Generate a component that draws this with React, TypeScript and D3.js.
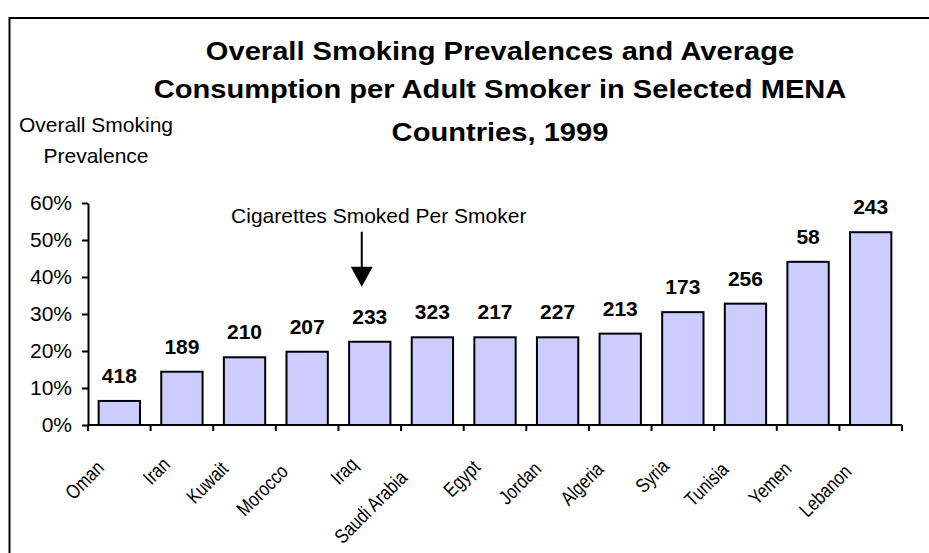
import React, { useRef, useEffect } from "react";
import * as d3 from "d3";

const countries = ["Oman", "Iran", "Kuwait", "Morocco", "Iraq", "Saudi Arabia", "Egypt", "Jordan", "Algeria", "Syria", "Tunisia", "Yemen", "Lebanon"];
// overall smoking prevalence, %
const prevalence = [6.5, 14.4, 18.3, 19.8, 22.5, 23.7, 23.7, 23.7, 24.7, 30.5, 32.8, 44.1, 52.1];
// cigarettes smoked per smoker
const cigarettes = [418, 189, 210, 207, 233, 323, 217, 227, 213, 173, 256, 58, 243];
const yTicks = [0, 10, 20, 30, 40, 50, 60];
const titleLines = [
  "Overall Smoking Prevalences and Average",
  "Consumption per Adult Smoker in Selected MENA",
  "Countries, 1999",
];
const yTitleLines = ["Overall Smoking", "Prevalence"];
const arrowNote = "Cigarettes Smoked Per Smoker";
const arrowCountry = "Iraq";

const FONT = "'Liberation Sans', Arial, Helvetica, sans-serif";

const App: React.FC = () => {
  const svgRef = useRef<SVGSVGElement>(null);

  useEffect(() => {
    const W = 929, H = 553;
    const margin = { top: 203, left: 88 };
    const plotW = 814;
    const plotH = 222;

    const svg = d3.select(svgRef.current);
    svg.selectAll("*").remove();

    svg.append("rect").attr("width", W).attr("height", H).attr("fill", "#fff");

    // outer frame (runs off the right / bottom edges)
    svg.append("rect")
      .attr("x", 9.5).attr("y", 18)
      .attr("width", W + 20).attr("height", H + 20)
      .attr("fill", "none").attr("stroke", "#000").attr("stroke-width", 2);

    // title, slightly wide like the original
    const title = svg.append("g").attr("transform", "translate(500,0) scale(1.12,1)");
    const titleY = [60.5, 98.5, 141];
    titleLines.forEach((t, i) => {
      title.append("text")
        .attr("x", 0).attr("y", titleY[i])
        .attr("text-anchor", "middle")
        .style("font-family", FONT).style("font-size", "26px").style("font-weight", "bold")
        .text(t);
    });

    const yTitleY = [132, 163];
    yTitleLines.forEach((t, i) => {
      svg.append("text")
        .attr("x", 96).attr("y", yTitleY[i])
        .attr("text-anchor", "middle")
        .style("font-family", FONT).style("font-size", "21px")
        .text(t);
    });

    const focus = svg.append("g").attr("transform", `translate(${margin.left},${margin.top})`);

    const x = d3.scaleBand<string>().domain(countries).range([0, plotW]).paddingInner(0.34).paddingOuter(0.17);
    const y = d3.scaleLinear().domain([0, 60]).range([plotH, 0]);

    // bars
    focus.selectAll("rect.bar")
      .data(countries)
      .enter()
      .append("rect")
      .attr("class", "bar")
      .attr("x", d => x(d)!)
      .attr("width", x.bandwidth())
      .attr("y", (_, i) => y(prevalence[i]))
      .attr("height", (_, i) => y(0) - y(prevalence[i]))
      .attr("fill", "#ccccff")
      .attr("stroke", "#000")
      .attr("stroke-width", 2);

    // value labels
    focus.selectAll("text.val")
      .data(countries)
      .enter()
      .append("text")
      .attr("class", "val")
      .attr("x", d => x(d)! + x.bandwidth() / 2)
      .attr("y", (_, i) => y(prevalence[i]) - 18)
      .attr("text-anchor", "middle")
      .style("font-family", FONT).style("font-size", "21px").style("font-weight", "bold")
      .text((_, i) => String(cigarettes[i]));

    // y axis
    const yAxis = focus.append("g")
      .call(d3.axisLeft(y).tickValues(yTicks).tickSize(6).tickSizeOuter(0).tickPadding(10).tickFormat(d => `${d}%`));
    yAxis.select(".domain").attr("stroke-width", 2);
    yAxis.selectAll(".tick line").attr("stroke-width", 2);
    yAxis.selectAll(".tick text")
      .style("font-family", FONT).style("font-size", "21px").attr("fill", "#000");

    // x axis with ticks between categories
    const xAxisG = focus.append("g").attr("transform", `translate(0,${plotH})`);
    xAxisG.append("line")
      .attr("x1", 0).attr("x2", plotW)
      .attr("stroke", "#000").attr("stroke-width", 2);
    const step = x.step();
    const bounds = d3.range(countries.length + 1).map(i => i * step);
    xAxisG.selectAll("line.tick")
      .data(bounds)
      .enter()
      .append("line")
      .attr("class", "tick")
      .attr("x1", d => d).attr("x2", d => d)
      .attr("y1", 0).attr("y2", 6)
      .attr("stroke", "#000").attr("stroke-width", 2);

    // rotated, condensed category labels; longer ones slide a bit down the diagonal
    const cats = xAxisG.selectAll<SVGTextElement, string>("text.cat")
      .data(countries)
      .enter()
      .append("text")
      .attr("class", "cat")
      .attr("transform", d => `translate(${x(d)! + x.bandwidth() / 2 - 5},35) rotate(-45) scale(0.82,1)`)
      .attr("text-anchor", "end")
      .style("font-family", FONT).style("font-size", "20px")
      .text(d => d);
    cats.each(function () {
      const len = this.getComputedTextLength();
      d3.select(this).attr("x", -0.29 * len);
    });

    // arrow annotation
    const ax = x(arrowCountry)! + x.bandwidth() / 2 - 8;
    focus.append("text")
      .attr("x", ax + 17).attr("y", 19.7)
      .attr("text-anchor", "middle")
      .style("font-family", FONT).style("font-size", "21px")
      .text(arrowNote);
    focus.append("line")
      .attr("x1", ax).attr("x2", ax)
      .attr("y1", 28.7).attr("y2", 66)
      .attr("stroke", "#000").attr("stroke-width", 2);
    focus.append("path")
      .attr("d", `M${ax - 11},63.7 L${ax + 11},63.7 L${ax},83.7 Z`)
      .attr("fill", "#000");
  }, []);

  return <svg ref={svgRef} width={929} height={553} style={{ position: "absolute", left: 0, top: 0 }} />;
};

export default App;
